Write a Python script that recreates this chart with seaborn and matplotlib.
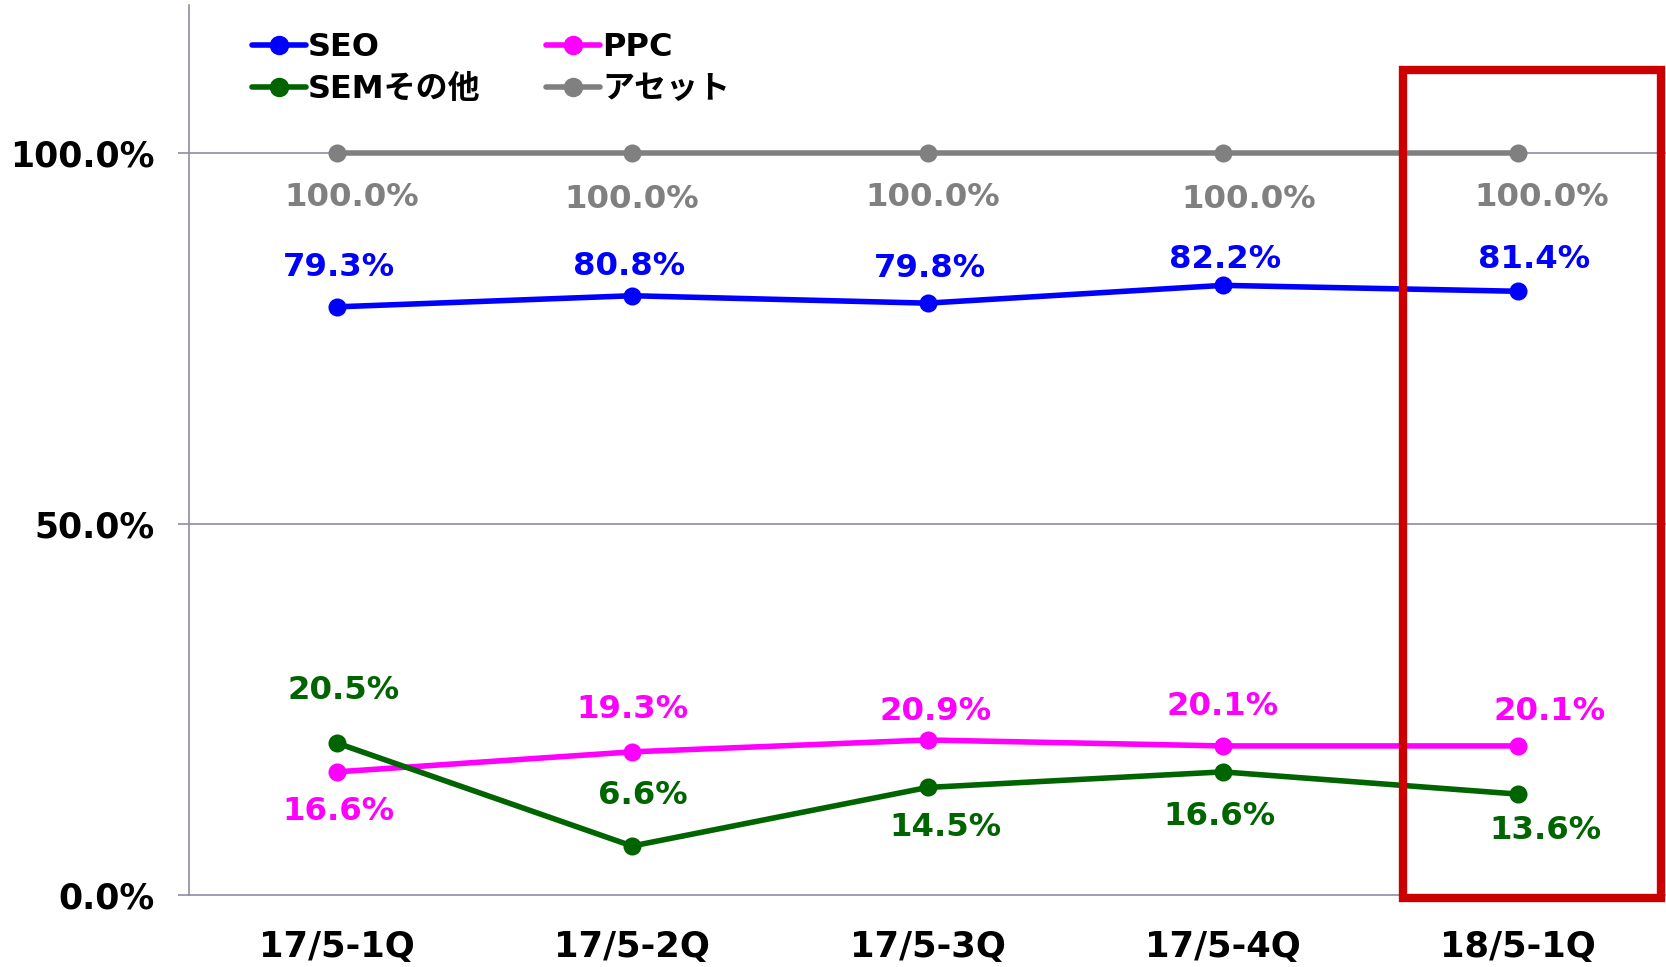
import pandas as pd
import matplotlib.pyplot as plt
import seaborn as sns
from matplotlib.patches import Rectangle

# Données du graphique
quarters = ['17/5-1Q', '17/5-2Q', '17/5-3Q', '17/5-4Q', '18/5-1Q']
seo = [79.3, 80.8, 79.8, 82.2, 81.4]
ppc = [16.6, 19.3, 20.9, 20.1, 20.1]
sem = [20.5, 6.6, 14.5, 16.6, 13.6]
asset = [100.0, 100.0, 100.0, 100.0, 100.0]

series_names = ['SEO', 'PPC', 'SEMその他', 'アセット']
series_values = [seo, ppc, sem, asset]
colors = ['#0000FF', '#FF00FF', '#006400', '#808080']

# décalages des étiquettes (pixels) par série et par point
label_offsets = {
    'SEO': [(2, 39), (-3, 29), (2, 35), (2, 26), (16, 32)],
    'PPC': [(2, -40), (0, 42), (8, 28), (0, 39), (31, 34)],
    'SEMその他': [(7, 52), (11, 51), (18, -40), (-3, -45), (27, -36)],
    'アセット': [(15, -44), (0, -46), (5, -44), (26, -46), (23, -44)],
}

df = pd.DataFrame({
    'trimestre': quarters * len(series_names),
    'serie': [n for n in series_names for _ in quarters],
    'valeur': [v for vals in series_values for v in vals],
})

sns.set_style('white')
plt.rcParams['font.family'] = ['DejaVu Sans', 'Noto Sans CJK JP']
plt.rcParams['font.weight'] = 'bold'
plt.rcParams['text.color'] = 'black'
plt.rcParams['xtick.labelcolor'] = 'black'
plt.rcParams['ytick.labelcolor'] = 'black'

fig = plt.figure(figsize=(16.66, 9.67), dpi=100)
ax = fig.add_axes([189 / 1666, 72 / 967, 1 - 189 / 1666, (895 - 5) / 967])

ax.axhline(50, color='#8F8BA8', lw=1.2, zorder=0)
ax.axhline(100, color='#8F8BA8', lw=1.2, zorder=0)

sns.lineplot(data=df, x='trimestre', y='valeur', hue='serie', hue_order=series_names,
             palette=colors, marker='o', markersize=13, markeredgewidth=0,
             linewidth=4, ax=ax, legend=False, sort=False)

# étiquettes de données
for name, vals, col in zip(series_names, series_values, colors):
    for i, v in enumerate(vals):
        dx, dy = label_offsets[name][i]
        ax.annotate(f'{v:.1f}%', (i, v), xytext=(dx, dy), textcoords='offset pixels',
                    ha='center', va='center', color=col, fontsize=23.3,
                    fontweight='bold', family='DejaVu Sans')

ax.set_xlim(-0.5, 4.5)
ax.set_ylim(0, 120)
ax.set_yticks([0, 50, 100])
ax.set_yticklabels(['0.0%', '50.0%', '100.0%'])
ax.set_xticks(range(len(quarters)))
ax.set_xticklabels(quarters)
ax.set_xticks([-0.5, 0.5, 1.5, 2.5, 3.5], minor=True)
ax.tick_params(axis='x', which='major', length=0, pad=25, labelsize=25.5)
ax.tick_params(axis='x', which='minor', length=8, width=1.2, color='#8F8BA8', direction='out')
ax.tick_params(axis='y', length=8, width=1.2, color='#8F8BA8', pad=17, labelsize=25, left=True)
ax.set_xlabel('')
ax.set_ylabel('')

for s in ['top', 'right']:
    ax.spines[s].set_visible(False)
for s in ['left', 'bottom']:
    ax.spines[s].set_color('#8F8BA8')
    ax.spines[s].set_linewidth(1.2)

# cadre rouge autour du dernier trimestre
rect = Rectangle((3.608, -0.4), 0.875, 111.7, fill=False, edgecolor='#CC0000',
                 linewidth=6, clip_on=False, zorder=5)
ax.add_patch(rect)

# légende sur deux colonnes
handles = []
for col in colors:
    handles.append(plt.Line2D([], [], color=col, lw=4, marker='o', markersize=13))
order = [0, 2, 1, 3]
leg = fig.legend([handles[i] for i in order], [series_names[i] for i in order],
                 loc='upper left', bbox_to_anchor=(252 / 1666, 1 - 32 / 967), ncol=2,
                 frameon=False, fontsize=23, handlelength=1.7, handletextpad=0.05,
                 columnspacing=2.05, labelspacing=0.35, borderaxespad=0, borderpad=0)

plt.savefig('out.png', dpi=100)
